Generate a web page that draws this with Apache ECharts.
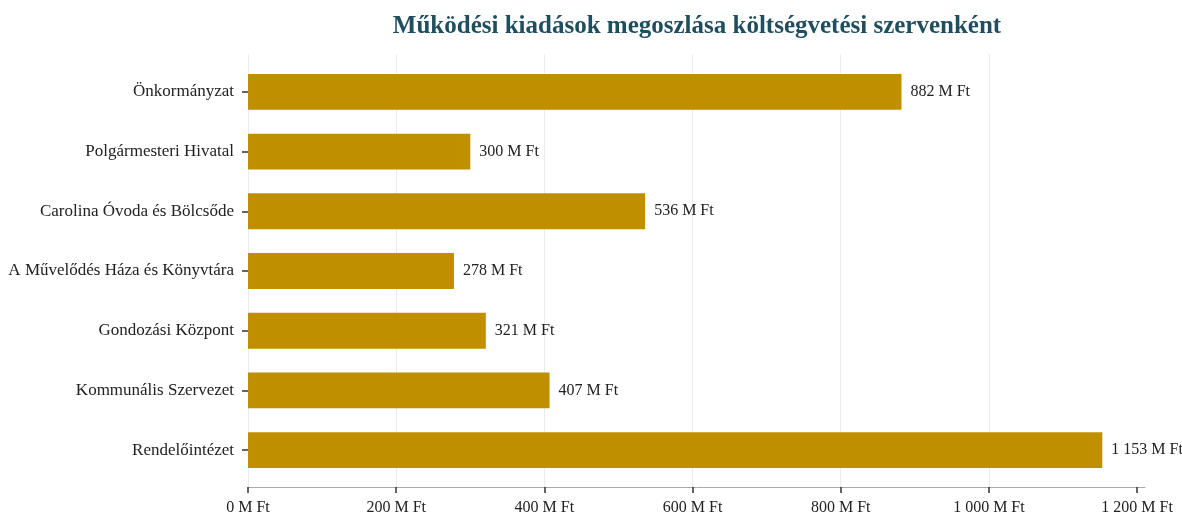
<!DOCTYPE html>
<html>
<head>
<meta charset="utf-8">
<script src="https://cdn.jsdelivr.net/npm/echarts@6/dist/echarts.min.js"></script>
<style>
html,body{margin:0;padding:0;background:#fff;}
#chart{width:1182px;height:516px;}
</style>
</head>
<body>
<div id="chart"></div>
<script>
const categories = [
  "Önkormányzat",
  "Polgármesteri Hivatal",
  "Carolina Óvoda és Bölcsőde",
  "A Művelődés Háza és Könyvtára",
  "Gondozási Központ",
  "Kommunális Szervezet",
  "Rendelőintézet"
];
const values = [882, 300, 536, 278, 321, 407, 1153];
const tickValues = [0, 200, 400, 600, 800, 1000, 1200];
const titleText = "Működési kiadások megoszlása költségvetési szervenként";

function fmt(v) {
  const s = Math.round(v).toString().replace(/\B(?=(\d{3})+(?!\d))/g, " ");
  return s + " M Ft";
}

const FONT = "'Liberation Serif', serif";
const chart = echarts.init(document.getElementById("chart"), null, {renderer: "canvas"});
const maxVal = Math.max(...values) * 1.05;

chart.setOption({
  backgroundColor: "#fff",
  animation: false,
  title: {
    text: titleText,
    left: 692,
    textAlign: "center",
    top: 9,
    textStyle: {fontFamily: FONT, fontWeight: "bold", fontSize: 25, color: "#1F4E5F"}
  },
  grid: [
    {left: 248, right: 1182 - 1145, top: 54, bottom: 28, containLabel: false},
    {left: 248, right: 1182 - 1145, top: 62, bottom: 36, containLabel: false}
  ],
  xAxis: [{
    gridIndex: 0,
    type: "value",
    min: 0,
    max: maxVal,
    interval: 200,
    axisLine: {show: true, lineStyle: {color: "#aaaaaa", width: 1}},
    axisTick: {show: true, length: 6, customValues: tickValues, lineStyle: {color: "#333", width: 1.5}},
    axisLabel: {
      fontFamily: FONT, fontSize: 16, color: "#222", margin: 13,
      customValues: tickValues,
      formatter: v => fmt(v)
    },
    splitLine: {show: true, showMaxLine: false, lineStyle: {color: "#ebebeb", width: 1}}
  }, {
    gridIndex: 1,
    type: "value",
    min: 0,
    max: maxVal,
    show: false,
    splitLine: {show: false}
  }],
  yAxis: [{
    gridIndex: 0,
    type: "value",
    show: false,
    splitLine: {show: false}
  }, {
    gridIndex: 1,
    type: "category",
    data: categories,
    inverse: true,
    axisLine: {show: false},
    axisTick: {show: true, alignWithLabel: true, length: 6, lineStyle: {color: "#333", width: 1.5}},
    axisLabel: {fontFamily: FONT, fontSize: 17, color: "#222", margin: 14, padding: [3, 0, 0, 0]}
  }],
  series: [{
    type: "bar",
    xAxisIndex: 1,
    yAxisIndex: 1,
    data: values,
    barCategoryGap: "40%",
    itemStyle: {color: "#BF8F00"},
    label: {
      show: true,
      position: "right",
      distance: 9,
      fontFamily: FONT,
      fontSize: 16,
      color: "#222",
      padding: [2, 0, 0, 0],
      formatter: p => fmt(p.value)
    }
  }]
});
</script>
</body>
</html>
